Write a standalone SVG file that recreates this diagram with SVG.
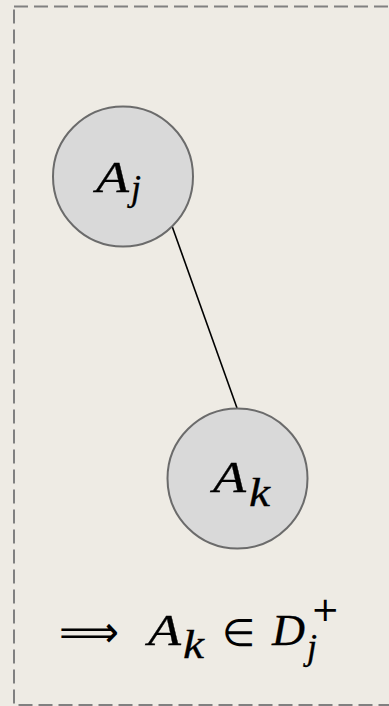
<svg xmlns="http://www.w3.org/2000/svg" width="389" height="706" viewBox="0 0 389 706">
<style>
.node{fill:#d9d9d9;stroke:#6b6b6b;stroke-width:2}
.m{font-family:"Liberation Serif","DejaVu Serif",serif;font-style:italic;fill:#000;stroke:#000;stroke-width:0.3}
.r{font-family:"DejaVu Sans","Liberation Sans",sans-serif;fill:#000}
</style>
<rect width="389" height="706" fill="#eeebe4"/>
<rect x="14" y="6.5" width="400" height="698.5" fill="none" stroke="#808080" stroke-width="2" stroke-dasharray="14 6"/>
<g id="connectors">
<line x1="172" y1="226" x2="237" y2="408" stroke="#000" stroke-width="1.6"/>
</g>
<g id="node-Aj">
<circle class="node" cx="123" cy="176.5" r="70"/>
<text class="m" x="96" y="192" font-size="45" textLength="33" lengthAdjust="spacingAndGlyphs">A</text>
<text class="m" x="131" y="200" font-size="36">j</text>
</g>
<g id="node-Ak">
<circle class="node" cx="237.5" cy="478.5" r="70"/>
<text class="m" x="213" y="492" font-size="45" textLength="33" lengthAdjust="spacingAndGlyphs">A</text>
<text class="m" x="249" y="506" font-size="39" textLength="21" lengthAdjust="spacingAndGlyphs">k</text>
</g>
<g id="formula">
<text class="r" x="59" y="647" font-size="44" textLength="60" lengthAdjust="spacingAndGlyphs">⟹</text>
<text class="m" x="148" y="645" font-size="45" textLength="33" lengthAdjust="spacingAndGlyphs">A</text>
<text class="m" x="183" y="658" font-size="39" textLength="21" lengthAdjust="spacingAndGlyphs">k</text>
<text class="r" x="222" y="646" font-size="38">∈</text>
<text class="m" x="272" y="645" font-size="45" textLength="33" lengthAdjust="spacingAndGlyphs">D</text>
<text class="m" x="307" y="659" font-size="36">j</text>
<text class="r" x="311" y="621" font-size="34">+</text>
</g>
</svg>
